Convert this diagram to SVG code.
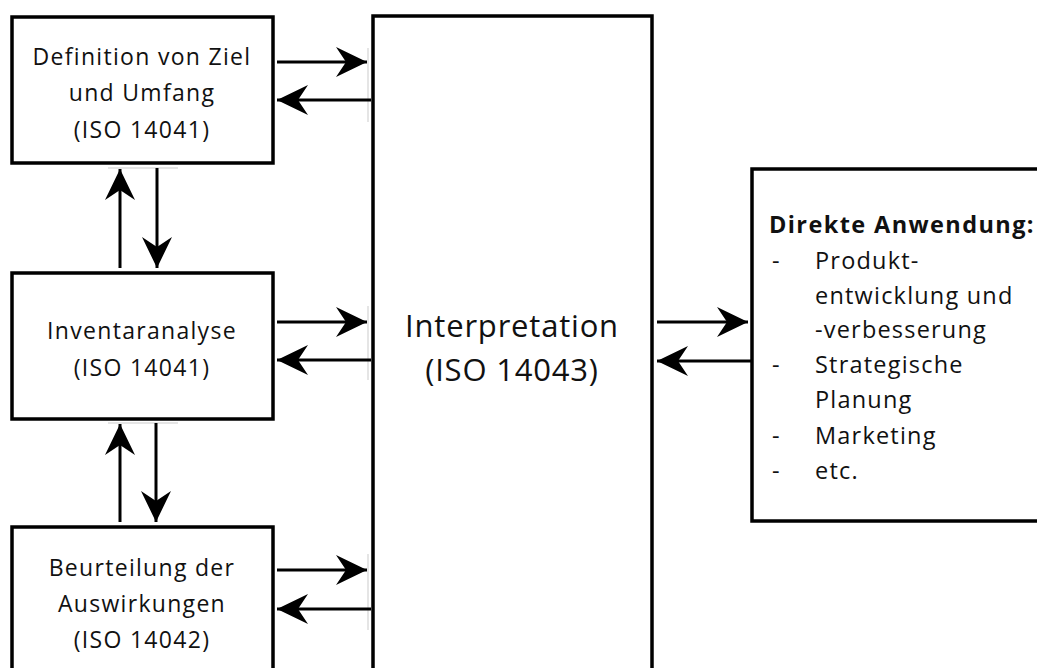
<svg xmlns="http://www.w3.org/2000/svg" width="1037" height="668" viewBox="0 0 1037 668">
<style>
.box{fill:#fff;stroke:#000;stroke-width:3.5}
.t{font-family:"Open Sans","Liberation Sans",sans-serif;font-size:23px;letter-spacing:1.3px;fill:#111;text-anchor:middle}
.big{font-size:31px;letter-spacing:0.8px}
.r{font-family:"Open Sans","Liberation Sans",sans-serif;font-size:23.5px;letter-spacing:1.2px;fill:#111}
.c{stroke:#000;stroke-width:3;fill:none;marker-end:url(#ah)}
.g{stroke:#ddd;stroke-width:1.5}
</style>
<defs>
<marker id="ah" markerUnits="userSpaceOnUse" markerWidth="34" markerHeight="32" refX="31" refY="15" orient="auto">
<path d="M0,0 L31,15 L0,30 L10,15 z" fill="#000"/>
</marker>
</defs>
<rect width="1037" height="668" fill="#fff"/>
<g id="n-ziel">
<rect class="box" x="12" y="17" width="261" height="146"/>
<text class="t" x="142" y="65">Definition von Ziel</text>
<text class="t" x="142" y="101">und Umfang</text>
<text class="t" x="142" y="138">(ISO 14041)</text>
</g>
<g id="n-inventar">
<rect class="box" x="12" y="273" width="261" height="146"/>
<text class="t" x="142" y="339">Inventaranalyse</text>
<text class="t" x="142" y="376">(ISO 14041)</text>
</g>
<g id="n-beurteilung">
<rect class="box" x="12" y="527" width="261" height="160"/>
<text class="t" x="142" y="576">Beurteilung der</text>
<text class="t" x="142" y="612">Auswirkungen</text>
<text class="t" x="142" y="648">(ISO 14042)</text>
</g>
<g id="n-interpretation">
<rect class="box" x="373" y="16" width="279" height="680"/>
<text class="t big" x="512" y="337">Interpretation</text>
<text class="t big" x="512" y="381">(ISO 14043)</text>
</g>
<g id="n-anwendung">
<rect class="box" x="752" y="169" width="300" height="352"/>
<text class="r" x="769" y="233" style="font-weight:bold;letter-spacing:1.4px">Direkte Anwendung:</text>
<text class="r" x="772" y="269">-</text>
<text class="r" x="815" y="269">Produkt-</text>
<text class="r" x="815" y="304">entwicklung und</text>
<text class="r" x="815" y="338">-verbesserung</text>
<text class="r" x="772" y="373">-</text>
<text class="r" x="815" y="373">Strategische</text>
<text class="r" x="815" y="408">Planung</text>
<text class="r" x="772" y="444">-</text>
<text class="r" x="815" y="444">Marketing</text>
<text class="r" x="772" y="479">-</text>
<text class="r" x="815" y="479">etc.</text>
</g>
<g id="connectors">
<line class="g" x1="368" y1="48" x2="368" y2="122"/>
<line class="g" x1="368" y1="306" x2="368" y2="380"/>
<line class="g" x1="368" y1="554" x2="368" y2="630"/>
<line class="g" x1="108" y1="168" x2="178" y2="168"/>
<line class="g" x1="108" y1="423" x2="178" y2="423"/>
<line class="c" x1="277" y1="62" x2="367" y2="62"/>
<line class="c" x1="371" y1="100" x2="277" y2="100"/>
<line class="c" x1="277" y1="322" x2="367" y2="322"/>
<line class="c" x1="371" y1="360" x2="277" y2="360"/>
<line class="c" x1="277" y1="570" x2="367" y2="570"/>
<line class="c" x1="371" y1="609" x2="277" y2="609"/>
<line class="c" x1="120" y1="268" x2="120" y2="169"/>
<line class="c" x1="157" y1="168" x2="157" y2="268"/>
<line class="c" x1="120" y1="522" x2="120" y2="424"/>
<line class="c" x1="156" y1="423" x2="156" y2="522"/>
<line class="c" x1="657" y1="322" x2="748" y2="322"/>
<line class="c" x1="751" y1="361" x2="657" y2="361"/>
</g>
</svg>
